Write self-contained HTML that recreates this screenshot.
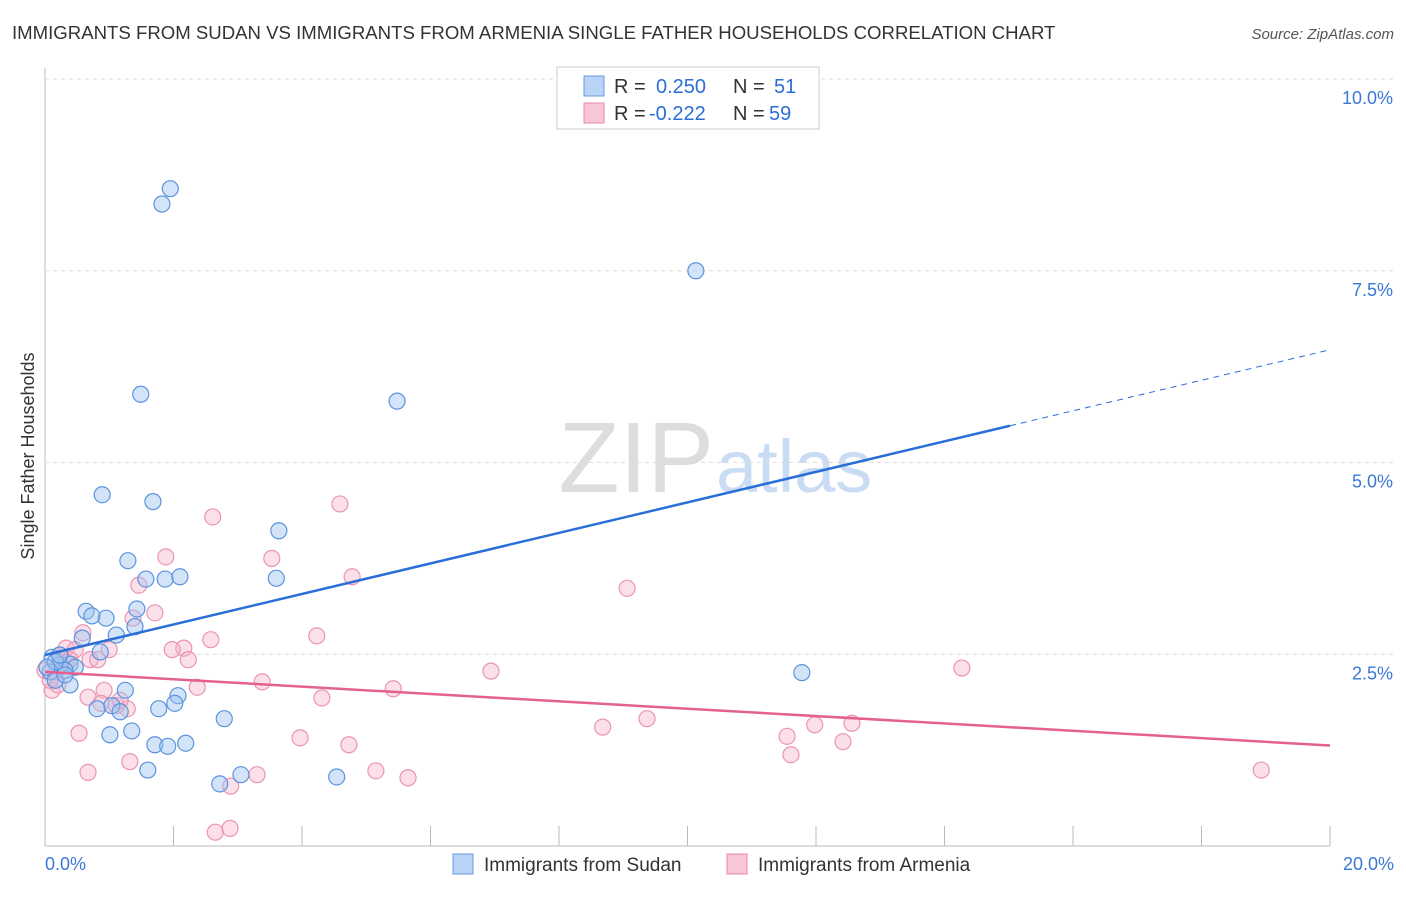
<!DOCTYPE html>
<html><head><meta charset="utf-8"><style>
body{margin:0;background:#fff;font-family:"Liberation Sans",sans-serif}
svg text{font-family:"Liberation Sans",sans-serif}
</style></head><body>
<svg id="c" width="1406" height="892">
<text x="12" y="39" font-size="18.6" fill="#333">IMMIGRANTS FROM SUDAN VS IMMIGRANTS FROM ARMENIA SINGLE FATHER HOUSEHOLDS CORRELATION CHART</text>
<text x="1394" y="39" font-size="15" fill="#555" font-style="italic" text-anchor="end">Source: ZipAtlas.com</text>
<text x="714" y="492" font-size="100" fill="#ddd" text-anchor="end" font-family="Liberation Serif">ZIP</text>
<text x="716" y="492" font-size="74" fill="#c9dcf3">atlas</text>
<text transform="translate(34,456) rotate(-90)" font-size="18" fill="#333" text-anchor="middle">Single Father Households</text>
<g id="grid"></g><g id="pts"></g><g id="lines"></g>
<g>
<rect x="557" y="67" width="262" height="62" fill="#fff" stroke="#ccc"/>
<rect x="584" y="76" width="20" height="20" fill="#b8d3f5" stroke="#6a9be0"/>
<rect x="584" y="103" width="20" height="20" fill="#f9c6d5" stroke="#e78aa8"/>
<text x="614" y="93" font-size="20" fill="#333">R =</text>
<text x="656" y="93" font-size="20" fill="#2a6ed8">0.250</text>
<text x="733" y="93" font-size="20" fill="#333">N =</text>
<text x="774" y="93" font-size="20" fill="#2a6ed8">51</text>
<text x="614" y="120" font-size="20" fill="#333">R =</text>
<text x="649" y="120" font-size="20" fill="#2a6ed8">-0.222</text>
<text x="733" y="120" font-size="20" fill="#333">N =</text>
<text x="769" y="120" font-size="20" fill="#2a6ed8">59</text>
</g>
<g>
<rect x="453" y="854" width="20" height="20" fill="#b8d3f5" stroke="#6a9be0"/>
<text x="484" y="871" font-size="19" fill="#333">Immigrants from Sudan</text>
<rect x="727" y="854" width="20" height="20" fill="#f9c6d5" stroke="#e78aa8"/>
<text x="758" y="871" font-size="19" fill="#333">Immigrants from Armenia</text>
</g>
</svg>
<script>
const xTicks=[0,2,4,6,8,10,12,14,16,18,20];
const yTicks=[2.5,5,7.5,10];
const yTickLabels=["2.5%","5.0%","7.5%","10.0%"];
const xLabels=["0.0%","20.0%"];
const sudanPx=[[170,189],[162,204],[696,271],[141,394],[397,401],[102,495],[153,502],[279,531],[128,561],[146,579],[165,579],[180,577],[276,578],[86,611],[106,618],[137,609],[135,627],[116,635],[82,638],[100,652],[52,657],[60,665],[70,664],[75,667],[50,672],[65,670],[55,680],[70,685],[125,690],[178,696],[112,706],[97,709],[159,709],[175,703],[120,712],[224,719],[132,731],[110,735],[155,745],[168,746],[186,743],[148,770],[241,775],[220,784],[337,777],[802,673],[55,662],[47,667],[60,655],[92,616],[65,675]];
const armeniaPx=[[340,504],[213,517],[166,557],[272,558],[352,577],[139,585],[627,588],[155,613],[133,618],[83,633],[317,636],[211,640],[66,648],[109,650],[90,660],[184,648],[172,650],[188,660],[491,671],[962,668],[262,682],[104,690],[197,687],[393,689],[322,698],[52,690],[88,697],[50,680],[127,709],[101,703],[116,706],[603,727],[647,719],[815,725],[852,723],[787,736],[79,733],[300,738],[349,745],[843,742],[791,755],[130,762],[88,772],[257,775],[376,771],[408,778],[231,786],[1261,770],[215,832],[230,828],[98,660],[60,655],[67,663],[56,672],[45,670],[75,650],[70,660],[58,685],[120,700]];
const sudanX=sudanPx.map(p=>+((p[0]-45)/1285*20).toFixed(2));
const sudanY=sudanPx.map(p=>+((846-p[1])/76.7).toFixed(2));
const armeniaX=armeniaPx.map(p=>+((p[0]-45)/1285*20).toFixed(2));
const armeniaY=armeniaPx.map(p=>+((846-p[1])/76.7).toFixed(2));
const sudanTrend=[2.49,6.47];
const armeniaTrend=[2.27,1.31];
const X=v=>45+v/20*1285, Y=v=>846-v*76.7;
const NS="http://www.w3.org/2000/svg";
function mk(t,a,p){const e=document.createElementNS(NS,t);for(const k in a)e.setAttribute(k,a[k]);p.appendChild(e);return e;}
const g=document.getElementById('grid');
const ax=mk('line',{x1:45,y1:68,x2:45,y2:846,stroke:'#bbb'},g);


const bx=mk('line',{x1:45,y1:846,x2:1330,y2:846,stroke:'#bbb'},g);


yTicks.forEach((v,i)=>{
 const l=mk('line',{x1:45,x2:1395,y1:Y(v),y2:Y(v),stroke:'#ddd','stroke-dasharray':'4,4'},g);
 
 
 const t=mk('text',{x:1393,y:Y(v)+25,'font-size':18,fill:'#3a78d8','text-anchor':'end'},g);t.textContent=yTickLabels[i];
 
 
});
xTicks.forEach(v=>{
 const l=mk('line',{x1:X(v),x2:X(v),y1:826,y2:846,stroke:'#bbb'},g);
 
 
});
[[0,xLabels[0],'start',45],[20,xLabels[1],'end',1394]].forEach(d=>{
 const t=mk('text',{x:d[3],y:870,'font-size':18,fill:'#3a78d8','text-anchor':d[2]},g);t.textContent=d[1];
 
 
});
const P=document.getElementById('pts');
function dots(xs,ys,f,s,n){xs.forEach((x,i)=>{const c=mk('circle',{cx:X(x),cy:Y(ys[i]),r:8,fill:f,stroke:s,'stroke-width':1.2},P);
 
 });}
dots(armeniaX,armeniaY,'rgba(246,178,200,0.4)','#ec94b1','armenia-point');
dots(sudanX,sudanY,'rgba(160,196,240,0.45)','#5b93df','sudan-point');
const L=document.getElementById('lines');
const xs=15.02;
const sy=x=>sudanTrend[0]+(sudanTrend[1]-sudanTrend[0])*x/20;
let l1=mk('line',{x1:X(0),y1:Y(sy(0)),x2:X(xs),y2:Y(sy(xs)),stroke:'#2a6ed8','stroke-width':2.5},L);


let l2=mk('line',{x1:X(xs),y1:Y(sy(xs)),x2:X(20),y2:Y(sy(20)),stroke:'#2a6ed8','stroke-width':1,'stroke-dasharray':'6,5'},L);


let l3=mk('line',{x1:X(0),y1:Y(armeniaTrend[0]),x2:X(20),y2:Y(armeniaTrend[1]),stroke:'#e4608e','stroke-width':2.5},L);


</script>
</body></html>
